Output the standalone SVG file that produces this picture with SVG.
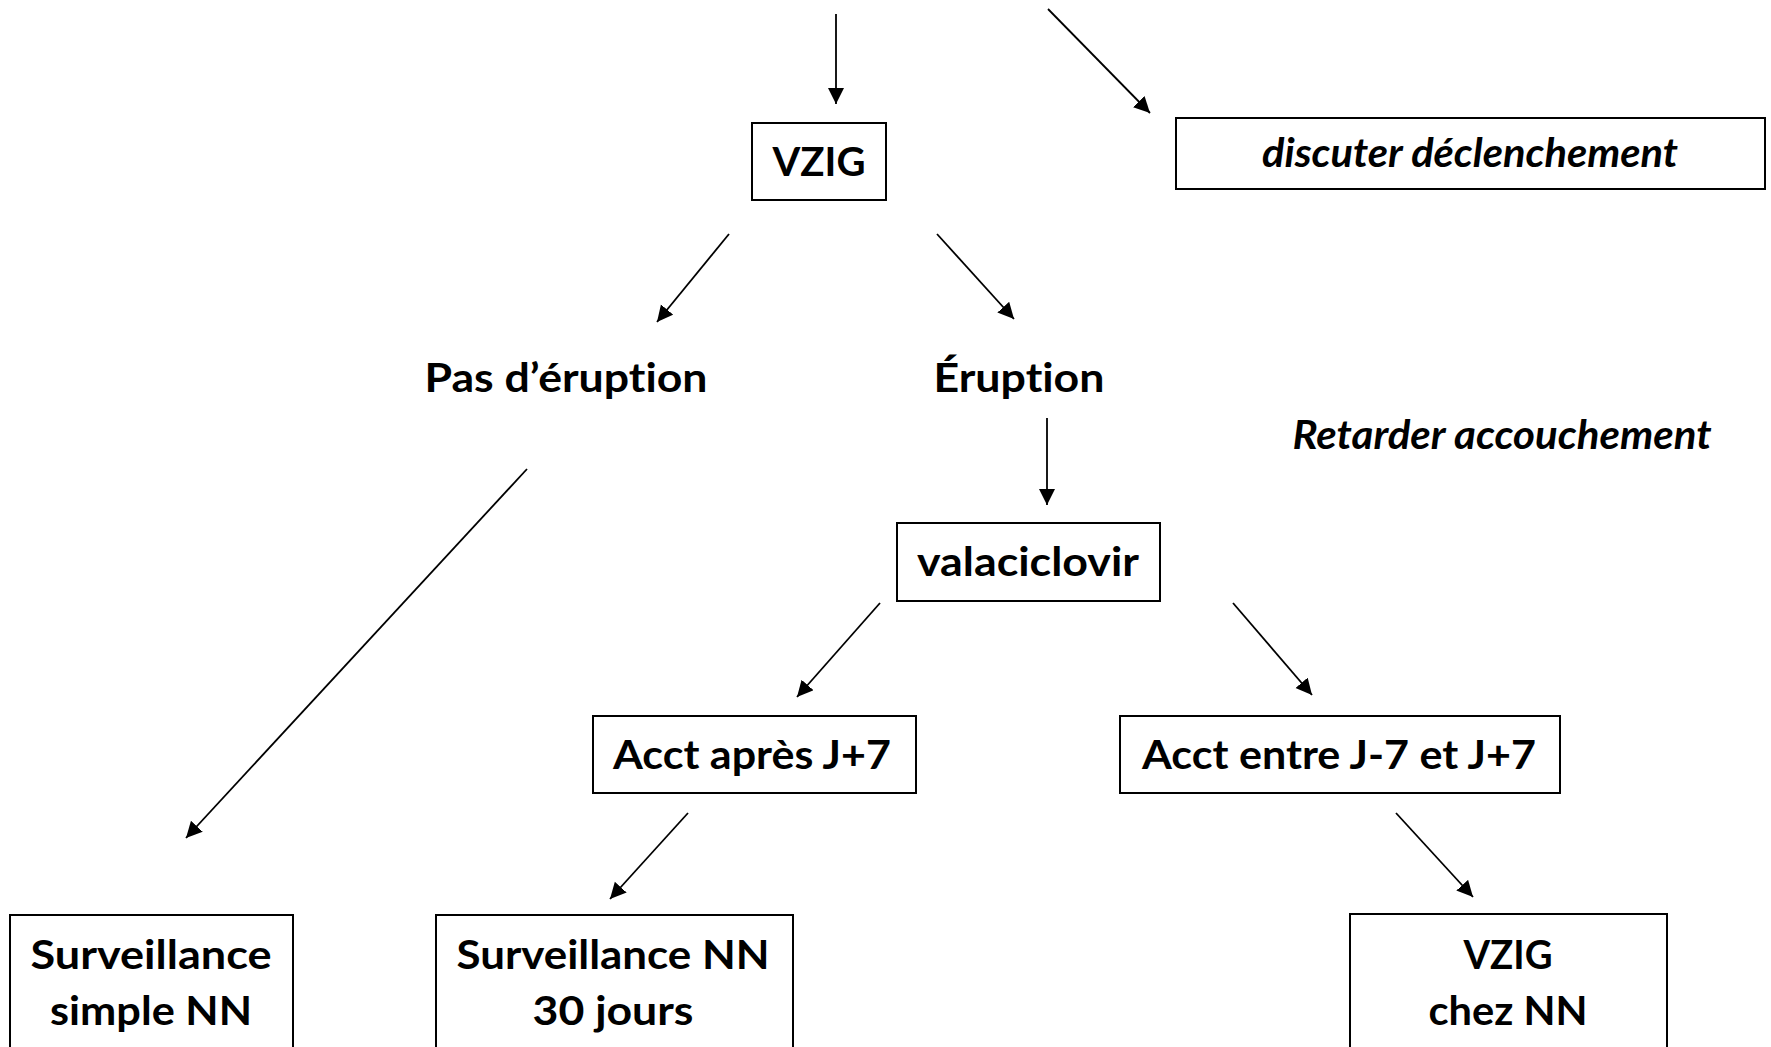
<svg xmlns="http://www.w3.org/2000/svg" width="1771" height="1047" viewBox="0 0 1771 1047">
<style>
.box{fill:#fff;stroke:#000;stroke-width:2}
.t{font-family:Lato,"Open Sans","Liberation Sans",sans-serif;font-weight:bold;font-size:40px;fill:#000;text-anchor:middle;font-variant-ligatures:none;font-feature-settings:"liga" 0,"dlig" 0}
.i{font-style:italic}
.c{stroke:#000;stroke-width:1.8;fill:none;marker-end:url(#ah)}
</style>
<defs>
<marker id="ah" markerUnits="userSpaceOnUse" markerWidth="17" markerHeight="17" refX="16" refY="8" orient="auto">
<path d="M0,0 L16,8 L0,16 z" fill="#000"/>
</marker>
</defs>
<rect width="1771" height="1047" fill="#fff"/>
<g id="connectors">
<line class="c" x1="836" y1="14" x2="836" y2="104"/>
<line class="c" x1="1048" y1="9" x2="1150" y2="113"/>
<line class="c" x1="729" y1="234" x2="657" y2="322"/>
<line class="c" x1="937" y1="234" x2="1014" y2="319"/>
<line class="c" x1="1047" y1="418" x2="1047" y2="505"/>
<line class="c" x1="527" y1="469" x2="186" y2="838"/>
<line class="c" x1="880" y1="603" x2="797" y2="697"/>
<line class="c" x1="1233" y1="603" x2="1312" y2="695"/>
<line class="c" x1="688" y1="813" x2="610" y2="899"/>
<line class="c" x1="1396" y1="813" x2="1473" y2="897"/>
</g>
<g id="n-vzig">
<rect class="box" x="752" y="123" width="134" height="77"/>
<text class="t" x="819" y="176" textLength="93" lengthAdjust="spacingAndGlyphs">VZIG</text>
</g>
<g id="n-discuter">
<rect class="box" x="1176" y="118" width="589" height="71"/>
<text class="t i" x="1470" y="167" textLength="416" lengthAdjust="spacingAndGlyphs">discuter déclenchement</text>
</g>
<g id="n-pas-eruption">
<text class="t" x="566" y="392" textLength="283" lengthAdjust="spacingAndGlyphs">Pas d’éruption</text>
</g>
<g id="n-eruption">
<text class="t" x="1019" y="392" textLength="171" lengthAdjust="spacingAndGlyphs">Éruption</text>
</g>
<g id="n-retarder">
<text class="t i" x="1502" y="449" textLength="419" lengthAdjust="spacingAndGlyphs">Retarder accouchement</text>
</g>
<g id="n-valaciclovir">
<rect class="box" x="897" y="523" width="263" height="78"/>
<text class="t" x="1028" y="576" textLength="222" lengthAdjust="spacingAndGlyphs">valaciclovir</text>
</g>
<g id="n-acct-apres">
<rect class="box" x="593" y="716" width="323" height="77"/>
<text class="t" x="752" y="769" textLength="278" lengthAdjust="spacingAndGlyphs">Acct après J+7</text>
</g>
<g id="n-acct-entre">
<rect class="box" x="1120" y="716" width="440" height="77"/>
<text class="t" x="1339" y="769" textLength="394" lengthAdjust="spacingAndGlyphs">Acct entre J-7 et J+7</text>
</g>
<g id="n-surv-simple">
<rect class="box" x="10" y="915" width="283" height="150"/>
<text class="t" x="151" y="969" textLength="241" lengthAdjust="spacingAndGlyphs">Surveillance</text>
<text class="t" x="151" y="1025" textLength="202" lengthAdjust="spacingAndGlyphs">simple NN</text>
</g>
<g id="n-surv-30">
<rect class="box" x="436" y="915" width="357" height="150"/>
<text class="t" x="613" y="969" textLength="313" lengthAdjust="spacingAndGlyphs">Surveillance NN</text>
<text class="t" x="613" y="1025" textLength="161" lengthAdjust="spacingAndGlyphs">30 jours</text>
</g>
<g id="n-vzig-nn">
<rect class="box" x="1350" y="914" width="317" height="150"/>
<text class="t" x="1508" y="969" textLength="89" lengthAdjust="spacingAndGlyphs">VZIG</text>
<text class="t" x="1508" y="1025" textLength="159" lengthAdjust="spacingAndGlyphs">chez NN</text>
</g>
</svg>
